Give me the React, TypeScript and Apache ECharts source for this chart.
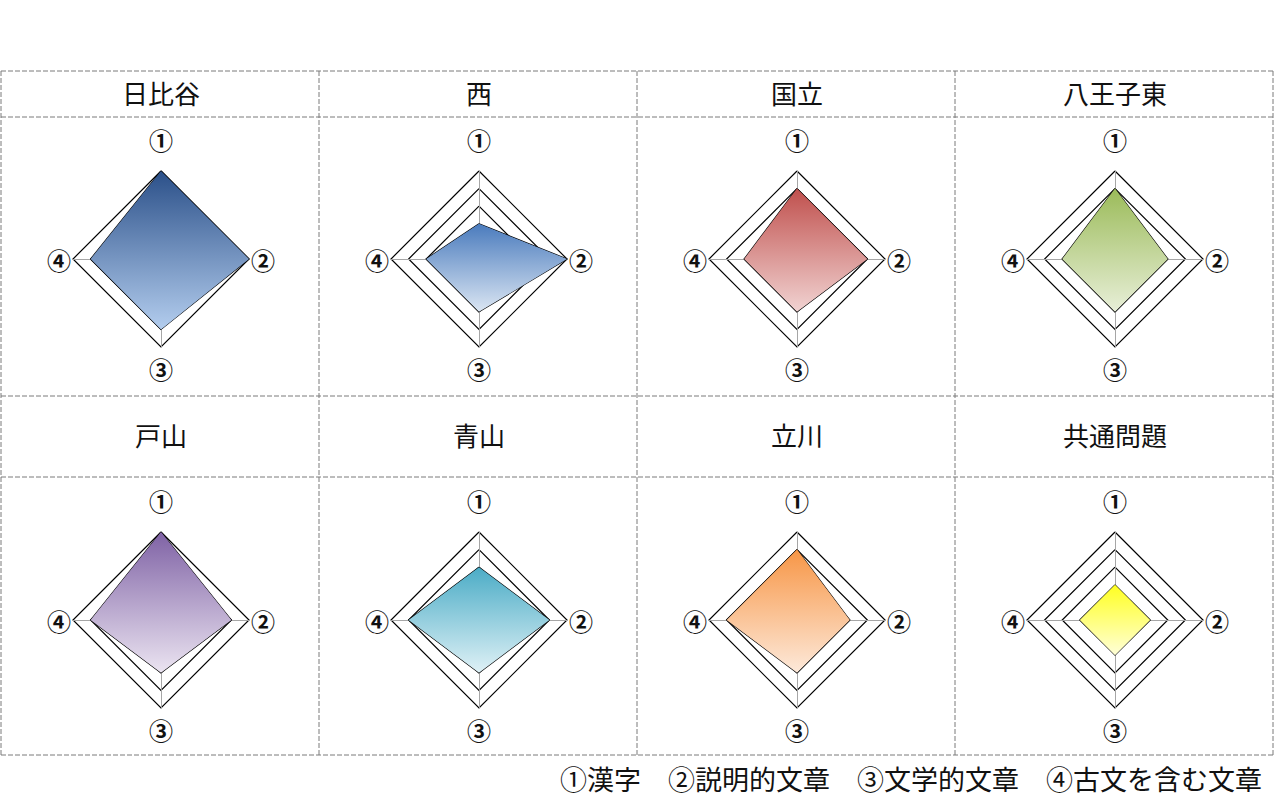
import React, { useEffect, useRef } from "react";
import * as echarts from "echarts";

const schools = ["日比谷", "西", "国立", "八王子東", "戸山", "青山", "立川", "共通問題"];
const axisLabels = ["①", "②", "③", "④"];
// values in order ①漢字, ②説明的文章, ③文学的文章, ④古文を含む文章
const hibiya = [5, 5, 4, 4];
const nishi = [2, 5, 3, 3];
const kunitachi = [4, 4, 3, 3];
const hachiojiHigashi = [4, 3, 3, 3];
const toyama = [5, 4, 3, 4];
const aoyama = [3, 4, 3, 4];
const tachikawa = [4, 3, 3, 4];
const kyotsu = [2, 2, 2, 2];
const seriesValues = [hibiya, nishi, kunitachi, hachiojiHigashi, toyama, aoyama, tachikawa, kyotsu];
const legendText = "①漢字　②説明的文章　③文学的文章　④古文を含む文章";

const topColors = ["#2b5089", "#4a7bbd", "#c0504d", "#9bbb59", "#7f62a5", "#4bacc6", "#f79646", "#ffff20"];
const bottomColors = ["#b3cdee", "#dbe6f3", "#f1d3d2", "#e8efd8", "#ebe4f1", "#dff1f6", "#fde9da", "#ffffd8"];

const colX = [1, 319, 637, 955, 1273];
const rowY = [71, 117, 396, 477, 755];
const FONT = "'Noto Sans CJK JP', 'Noto Sans', sans-serif";

export default function App() {
  const ref = useRef<HTMLDivElement>(null);
  useEffect(() => {
    if (!ref.current) return;
    const chart = echarts.init(ref.current, null, { renderer: "svg" });
    const radars: any[] = [];
    const series: any[] = [];
    const graphics: any[] = [];
    const dash = { stroke: "#7a7a7a", lineWidth: 1, lineDash: [5, 2] };
    rowY.forEach((y) => {
      graphics.push({ type: "line", shape: { x1: colX[0], y1: y, x2: colX[4], y2: y }, style: dash });
    });
    colX.forEach((x) => {
      graphics.push({ type: "line", shape: { x1: x, y1: rowY[0], x2: x, y2: rowY[4] }, style: dash });
    });
    const ringColors = ["rgba(0,0,0,0)", "rgba(0,0,0,0)", "rgba(0,0,0,0)", "#000", "#000", "#000"];
    const order = [0, 3, 2, 1]; // counterclockwise from top: ①, ④, ③, ②
    const lab = { fontSize: 24, fontWeight: "bold", fontFamily: FONT, color: "#111" };
    schools.forEach((name, i) => {
      const c = i % 4;
      const r = Math.floor(i / 4);
      const cx = (colX[c] + colX[c + 1]) / 2 + 1;
      const cy = r === 0 ? 259 : 620;
      const headerY = (rowY[r * 2] + rowY[r * 2 + 1]) / 2 - 2;
      graphics.push({
        type: "text",
        x: cx,
        y: headerY,
        style: { text: name, fill: "#111", font: `26px ${FONT}`, textAlign: "center", textVerticalAlign: "middle" },
      });
      radars.push({
        center: [cx, cy],
        radius: 88,
        startAngle: 90,
        shape: "polygon",
        splitNumber: 5,
        indicator: order.map((k) => ({ name: axisLabels[k], min: 0, max: 5 })),
        nameGap: 1,
        axisName: {
          ...lab,
          formatter: (n: string) => (n === "①" ? `{t|${n}}` : n === "③" ? `{b|${n}}` : `{s|${n}}`),
          rich: {
            t: { ...lab, padding: [0, 0, 19, 0] },
            b: { ...lab, padding: [9, 0, 0, 0] },
            s: { ...lab, padding: [0, 1, 0, 1] },
          },
        },
        axisLine: { lineStyle: { color: "#a6a6a6", width: 1 } },
        splitLine: { lineStyle: { color: ringColors, width: 1.2 } },
        splitArea: { show: false },
        axisTick: { show: false },
        axisLabel: { show: false },
      });
      series.push({
        type: "radar",
        radarIndex: i,
        symbol: "none",
        silent: true,
        lineStyle: { color: "#000", width: 1.2 },
        areaStyle: {
          opacity: 1,
          color: new echarts.graphic.LinearGradient(0, 0, 0, 1, [
            { offset: 0, color: topColors[i] },
            { offset: 1, color: bottomColors[i] },
          ]),
        },
        z: 3,
        data: [{ value: order.map((k) => seriesValues[i][k]), name }],
      });
    });
    graphics.push({
      type: "text",
      x: 1262,
      y: 778,
      style: { text: legendText, fill: "#111", font: `27px ${FONT}`, textAlign: "right", textVerticalAlign: "middle" },
    });
    chart.setOption({
      animation: false,
      backgroundColor: "#fff",
      radar: radars,
      series,
      graphic: { elements: graphics },
    });
    return () => chart.dispose();
  }, []);
  return <div ref={ref} style={{ position: "absolute", left: 0, top: 0, width: 1280, height: 811 }} />;
}
